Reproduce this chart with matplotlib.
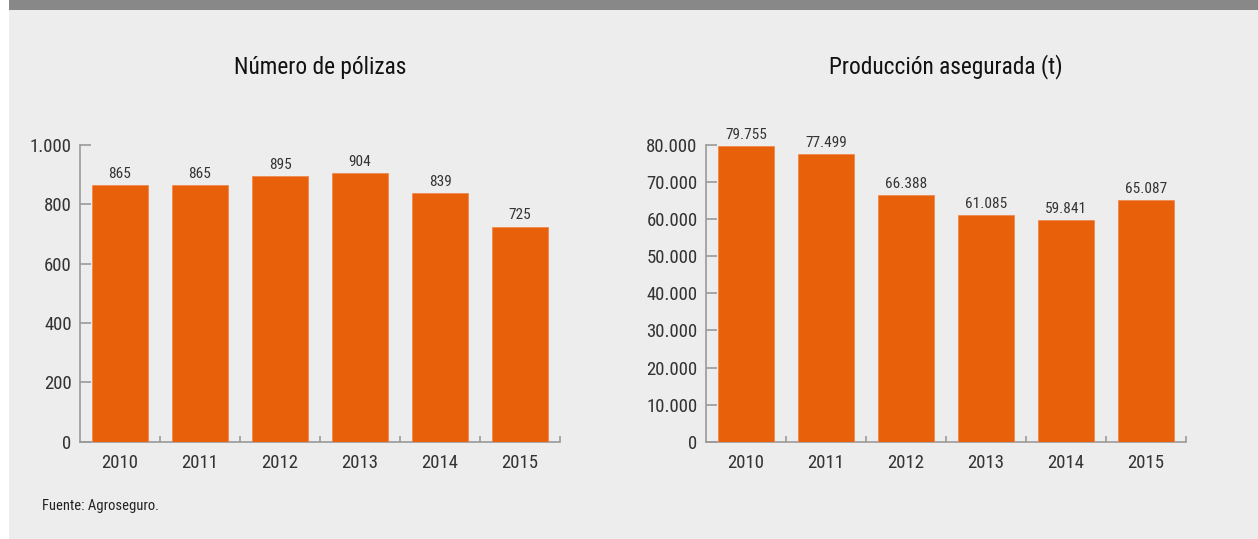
import matplotlib
matplotlib.use("Agg")
import matplotlib.pyplot as plt
from matplotlib.patches import Rectangle
from matplotlib import font_manager as fm

years = ['2010', '2011', '2012', '2013', '2014', '2015']
polizas = [865, 865, 895, 904, 839, 725]
produccion = [79755, 77499, 66388, 61085, 59841, 65087]

title_left = 'Número de pólizas'
title_right = 'Producción asegurada (t)'
source = 'Fuente: Agroseguro.'


def pick_condensed():
    prefs = ['LiberationSansNarrow-Regular', 'RobotoCondensed-Regular', 'Roboto_Condensed',
             'DejaVuSansCondensed.ttf', 'OpenSans_Condensed', 'OpenSansCondensed',
             'NotoSans-Condensed', 'NotoSansCondensed']
    files = [f.fname for f in fm.fontManager.ttflist]
    for p in prefs:
        for fn in files:
            if p.lower() in fn.lower() and not any(k in fn for k in ['Bold', 'Italic', 'Oblique', 'Light', 'Medium', 'Thin', 'Black', 'Semi', 'Extra']):
                return fn
    for fn in files:
        low = fn.lower()
        if ('condensed' in low or 'narrow' in low) and not any(k in low for k in ['bold', 'italic', 'oblique', 'light', 'medium', 'thin', 'black', 'semi', 'extra']):
            return fn
    return None


fpath = pick_condensed()


def FP(size):
    if fpath:
        return fm.FontProperties(fname=fpath, size=size)
    return fm.FontProperties(family='DejaVu Sans', stretch='condensed', size=size)


W, H = 1258, 539
fig = plt.figure(figsize=(W / 100, H / 100), dpi=100)
fig.patch.set_facecolor('white')

fig.add_artist(Rectangle((9 / W, 0), 1 - 9 / W, 1, transform=fig.transFigure,
                         facecolor='#ECEDEC', edgecolor='none', zorder=-10))
fig.add_artist(Rectangle((9 / W, 1 - 10 / H), 1 - 9 / W, 10 / H, transform=fig.transFigure,
                         facecolor='#888888', edgecolor='none', zorder=-9))

BAR = '#E8600A'
AX = '#9A9A9A'
TXT = '#333333'


def fmt(v):
    return f'{v:,}'.replace(',', '.')


def panel(left_px, values, ymax, step, title):
    y0 = 539 - 441.7
    h = 441.7 - 145
    ax = fig.add_axes([left_px / W, y0 / H, 480 / W, h / H])
    ax.set_facecolor('none')
    x = list(range(len(values)))
    bars = ax.bar(x, values, width=0.7, color=BAR, edgecolor='#EE8A50', linewidth=0.6, zorder=3)
    ax.set_xlim(-0.5, len(values) - 0.5)
    ax.set_ylim(0, ymax)
    for s in ['top', 'right']:
        ax.spines[s].set_visible(False)
    for s in ['left', 'bottom']:
        ax.spines[s].set_color(AX)
        ax.spines[s].set_linewidth(1.2)
    yt = list(range(0, ymax + 1, step))
    ax.set_yticks(yt)
    ax.set_yticklabels([fmt(v) for v in yt], fontproperties=FP(13.5), color=TXT)
    ax.tick_params(axis='y', direction='in', length=8, width=1.2, color=AX, pad=6)
    ax.set_xticks(x)
    ax.set_xticklabels(years, fontproperties=FP(13.5), color=TXT)
    ax.tick_params(axis='x', which='major', length=0, pad=9)
    ax.set_xticks([i + 0.5 for i in x], minor=True)
    ax.tick_params(axis='x', which='minor', direction='in', length=4.5, width=1.2, color=AX)
    ax.bar_label(bars, labels=[fmt(v) for v in values], padding=3,
                 fontproperties=FP(11), color=TXT)
    fig.text((left_px + 240) / W, 1 - 67 / H, title, ha='center', va='center',
             fontproperties=FP(16.8), color='#111111')
    return ax


panel(80, polizas, 1000, 200, title_left)
panel(706, produccion, 80000, 10000, title_right)

fig.text(42 / W, 1 - 506 / H, source, ha='left', va='center', fontproperties=FP(10.5), color='#222222')

fig.savefig('out.png', dpi=100, facecolor=fig.get_facecolor())
